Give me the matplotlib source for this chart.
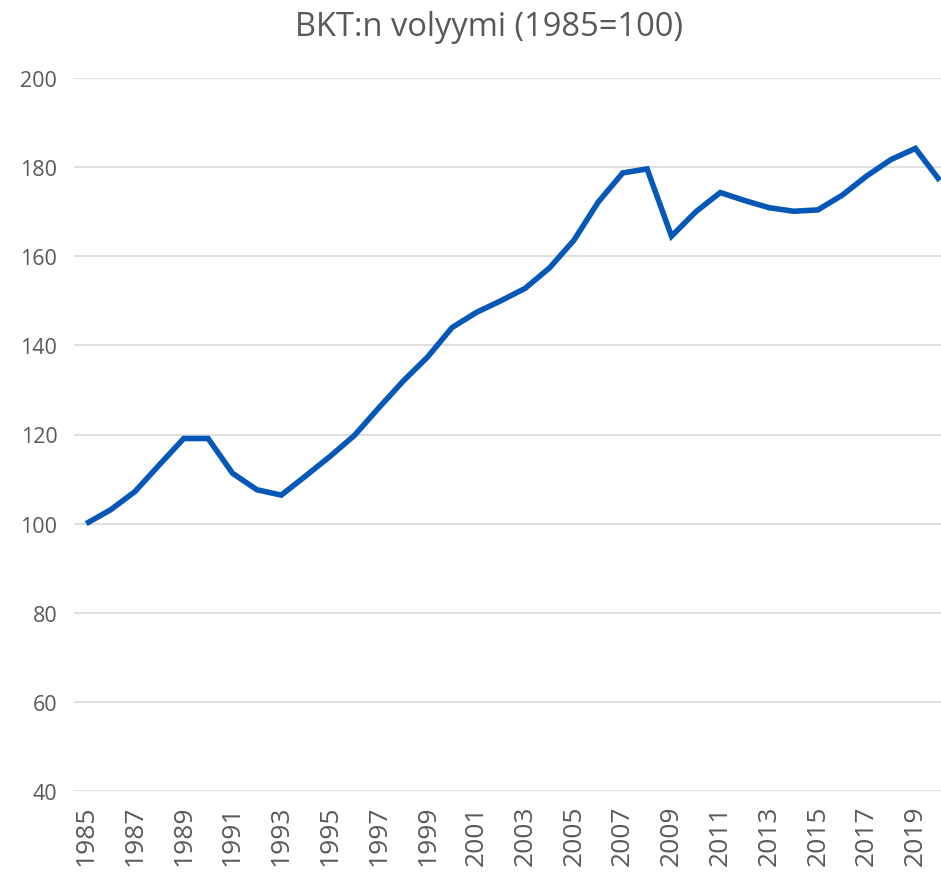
import matplotlib
matplotlib.use("Agg")
import matplotlib.pyplot as plt

years = list(range(1985, 2021))
volume = [100.0, 103.1, 107.2, 113.2, 119.1, 119.1, 111.3, 107.6, 106.4, 110.7,
          115.1, 119.8, 126.0, 132.0, 137.4, 144.0, 147.4, 150.0, 152.8, 157.4,
          163.6, 172.2, 178.7, 179.6, 164.5, 170.0, 174.3, 172.5, 170.9, 170.1,
          170.4, 173.7, 178.0, 181.7, 184.2, 177.0]
yticks = [40, 60, 80, 100, 120, 140, 160, 180, 200]
xtick_years = list(range(1985, 2020, 2))
title = "BKT:n volyymi (1985=100)"

plt.rcParams['font.family'] = ['Open Sans', 'DejaVu Sans']
txt = '#595959'

fig = plt.figure(figsize=(9.41, 8.78), dpi=100)
ax = fig.add_axes([74/941, 1-792/878, 1-74/941, (792-79)/878])
ax.plot(years, volume, color='#0558B7', linewidth=4.0, solid_joinstyle='miter', solid_capstyle='butt', zorder=3)
ax.set_xlim(1984.5, 2020.05)
ax.set_ylim(40, 200)
ax.set_yticks(yticks)
ax.set_xticks(xtick_years)
ax.set_xticklabels([str(y) for y in xtick_years], rotation=90, fontsize=19, color=txt)
ax.set_yticklabels([str(v) for v in yticks], fontsize=15.5, color=txt)
ax.tick_params(axis='both', length=0)
ax.tick_params(axis='x', pad=10)
ax.tick_params(axis='y', pad=12)
ax.grid(axis='y', color='#D9D9D9', linewidth=1.2)
ax.set_axisbelow(True)
for s in ax.spines.values():
    s.set_visible(False)
fig.text(489/941, 1-28/878, title, ha='center', va='center', fontsize=23.5, color=txt)
fig.savefig('out.png', dpi=100)
